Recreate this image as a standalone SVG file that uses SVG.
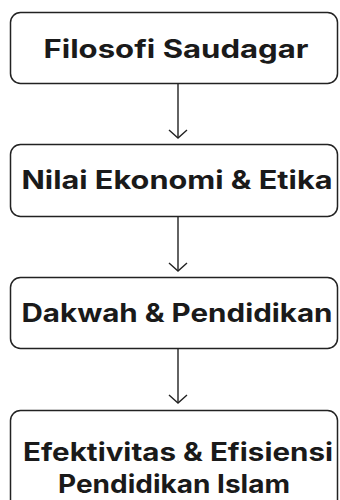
<svg xmlns="http://www.w3.org/2000/svg" width="340" height="500" viewBox="0 0 340 500">
<defs>
<style>
.box{fill:#fff;stroke:#222;stroke-width:1.5}
.t{font-family:Inter,"Noto Sans","Liberation Sans",sans-serif;font-weight:650;font-size:25px;fill:#1a1a1a;text-anchor:middle}
.c{fill:none;stroke:#222;stroke-width:1.4}
</style>
<marker id="ah" viewBox="0 0 10 20" refX="9" refY="10" markerWidth="10" markerHeight="20" markerUnits="userSpaceOnUse" orient="auto">
<path d="M1,1 L9,10 L1,19" fill="none" stroke="#222" stroke-width="1.4"/>
</marker>
</defs>
<rect width="340" height="500" fill="#fff"/>
<g id="connectors">
<line class="c" x1="178" y1="84" x2="178" y2="138" marker-end="url(#ah)"/>
<line class="c" x1="178" y1="217" x2="178" y2="271" marker-end="url(#ah)"/>
<line class="c" x1="178" y1="349" x2="178" y2="403" marker-end="url(#ah)"/>
</g>
<g id="n1">
<rect class="box" x="10.5" y="12.5" width="327" height="71" rx="10"/>
<text class="t" x="176" y="58" textLength="265" lengthAdjust="spacingAndGlyphs">Filosofi Saudagar</text>
</g>
<g id="n2">
<rect class="box" x="10.5" y="144.5" width="327" height="72" rx="10"/>
<text class="t" x="177" y="189" textLength="311" lengthAdjust="spacingAndGlyphs">Nilai Ekonomi &amp; Etika</text>
</g>
<g id="n3">
<rect class="box" x="10.5" y="277.5" width="327" height="71" rx="10"/>
<text class="t" x="177" y="322" textLength="311" lengthAdjust="spacingAndGlyphs">Dakwah &amp; Pendidikan</text>
</g>
<g id="n4">
<rect class="box" x="10.5" y="410.5" width="327" height="110" rx="10"/>
<text class="t" x="178" y="461" textLength="310" lengthAdjust="spacingAndGlyphs">Efektivitas &amp; Efisiensi</text>
<text class="t" x="174" y="493" textLength="232" lengthAdjust="spacingAndGlyphs">Pendidikan Islam</text>
</g>
</svg>
